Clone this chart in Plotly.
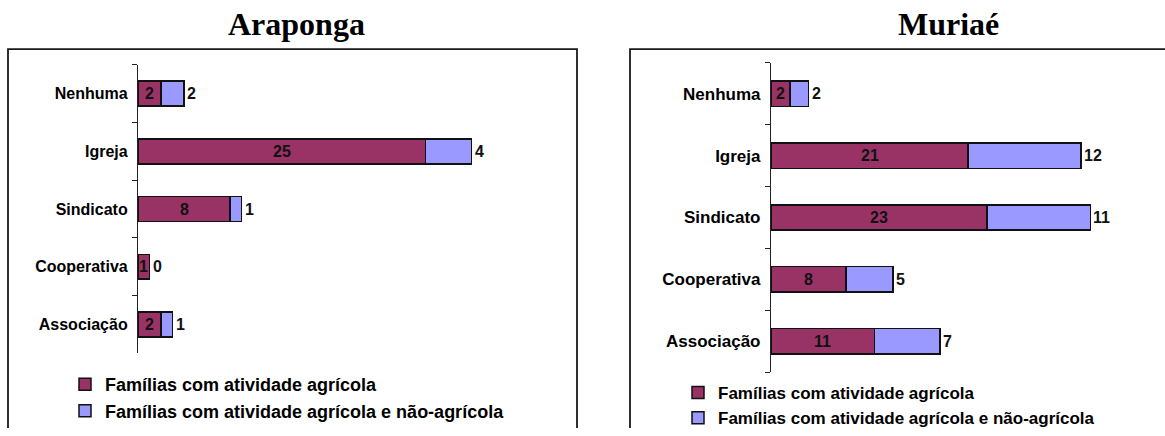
import plotly.graph_objects as go

W, H = 1165, 436

categories = ["Associação", "Cooperativa", "Sindicato", "Igreja", "Nenhuma"]
series_names = ["Famílias com atividade agrícola",
                "Famílias com atividade agrícola e não-agrícola"]

araponga_agr = [2, 1, 8, 25, 2]
araponga_nao = [1, 0, 1, 4, 2]

muriae_agr = [11, 8, 23, 21, 2]
muriae_nao = [7, 5, 11, 12, 2]

titles = ["Araponga", "Muriaé"]

C1 = "#993366"
C2 = "#9999FF"
FONT = "Liberation Sans, Arial, sans-serif"
SERIF = "Liberation Serif, Times New Roman, serif"


def px(p):
    return p / W


def py(p):
    return 1 - p / H


fig = go.Figure()

panels = [
    dict(agr=araponga_agr, nao=araponga_nao, xa="x", ya="y", legend="legend", width=0.43),
    dict(agr=muriae_agr, nao=muriae_nao, xa="x2", ya="y2", legend="legend2", width=0.41),
]

for i, p in enumerate(panels):
    for j, (vals, col) in enumerate(((p["agr"], C1), (p["nao"], C2))):
        fig.add_trace(go.Bar(
            y=categories, x=vals, orientation="h",
            name=series_names[j],
            marker=dict(color=col, line=dict(color="#111111", width=1.5)),
            width=p["width"],
            xaxis=p["xa"], yaxis=p["ya"],
            legend=p["legend"],
            hoverinfo="skip",
        ))
    # value labels
    for c, a, b in zip(categories, p["agr"], p["nao"]):
        fig.add_annotation(x=a / 2, y=c, xref=p["xa"], yref=p["ya"], text=str(a),
                           showarrow=False, xanchor="center", yanchor="middle",
                           font=dict(family=FONT, size=16, color="#111", weight="bold"))
        fig.add_annotation(x=a + b, y=c, xref=p["xa"], yref=p["ya"], text=str(b),
                           showarrow=False, xanchor="left", yanchor="middle", xshift=1,
                           font=dict(family=FONT, size=16, color="#111", weight="bold"))

# titles
fig.add_annotation(x=px(296), y=py(24), xref="paper", yref="paper", text=titles[0],
                   showarrow=False, xanchor="center", yanchor="middle",
                   font=dict(family=SERIF, size=32, color="#000", weight="bold"))
fig.add_annotation(x=px(948), y=py(24), xref="paper", yref="paper", text=titles[1],
                   showarrow=False, xanchor="center", yanchor="middle",
                   font=dict(family=SERIF, size=32, color="#000", weight="bold"))

# chart area frames (open at the bottom / right edge, as cropped in the reference)
t = py(50)
fig.add_shape(type="path", xref="paper", yref="paper",
              path=f"M {px(8)},0 L {px(8)},{t} L {px(577)},{t} L {px(577)},0",
              line=dict(color="#1a1a1a", width=1.8), layer="below")
fig.add_shape(type="path", xref="paper", yref="paper",
              path=f"M {px(630)},0 L {px(630)},{t} L 1,{t}",
              line=dict(color="#1a1a1a", width=1.8), layer="below")

xcommon = dict(showgrid=False, zeroline=False, showticklabels=False, showline=False, ticks="")
ycommon = dict(type="category", categoryorder="array", categoryarray=categories,
               range=[-0.5, 4.5], showgrid=False, zeroline=False,
               showline=True, linecolor="#222", linewidth=1.2,
               ticks="outside", tickson="boundaries", ticklen=5, tickcolor="#222",
               ticklabelstandoff=6)

fig.update_layout(
    width=W, height=H,
    margin=dict(l=0, r=0, t=0, b=0),
    paper_bgcolor="white", plot_bgcolor="white",
    barmode="stack",
    xaxis=dict(domain=[px(138), px(560)], range=[0, (560 - 138) / 11.5], anchor="y", **xcommon),
    yaxis=dict(domain=[py(360), py(66)], anchor="x",
               tickfont=dict(family=FONT, size=16, color="#000", weight="bold"), **ycommon),
    xaxis2=dict(domain=[px(771), px(1150)], range=[0, (1150 - 771) / 9.39], anchor="y2", **xcommon),
    yaxis2=dict(domain=[py(379), py(64)], anchor="x2",
                tickfont=dict(family=FONT, size=17, color="#000", weight="bold"), **ycommon),
    legend=dict(x=px(65), y=py(373), xanchor="left", yanchor="top",
                orientation="v", traceorder="normal",
                bgcolor="rgba(0,0,0,0)",
                font=dict(family=FONT, size=18, color="#000", weight="bold")),
    legend2=dict(x=px(678), y=py(382), xanchor="left", yanchor="top",
                 orientation="v", traceorder="normal",
                 bgcolor="rgba(0,0,0,0)",
                 font=dict(family=FONT, size=17, color="#000", weight="bold")),
    showlegend=True,
)

post = (
    "document.documentElement.style.overflow='hidden';"
    "document.body.style.margin='0px';document.body.style.overflow='hidden';"
    "document.querySelectorAll('.plotly-graph-div, .plot-container, .svg-container')"
    ".forEach(function(e){e.style.overflow='hidden';});"
)
fig.write_html("out.html", config={"displayModeBar": False}, post_script=post)
